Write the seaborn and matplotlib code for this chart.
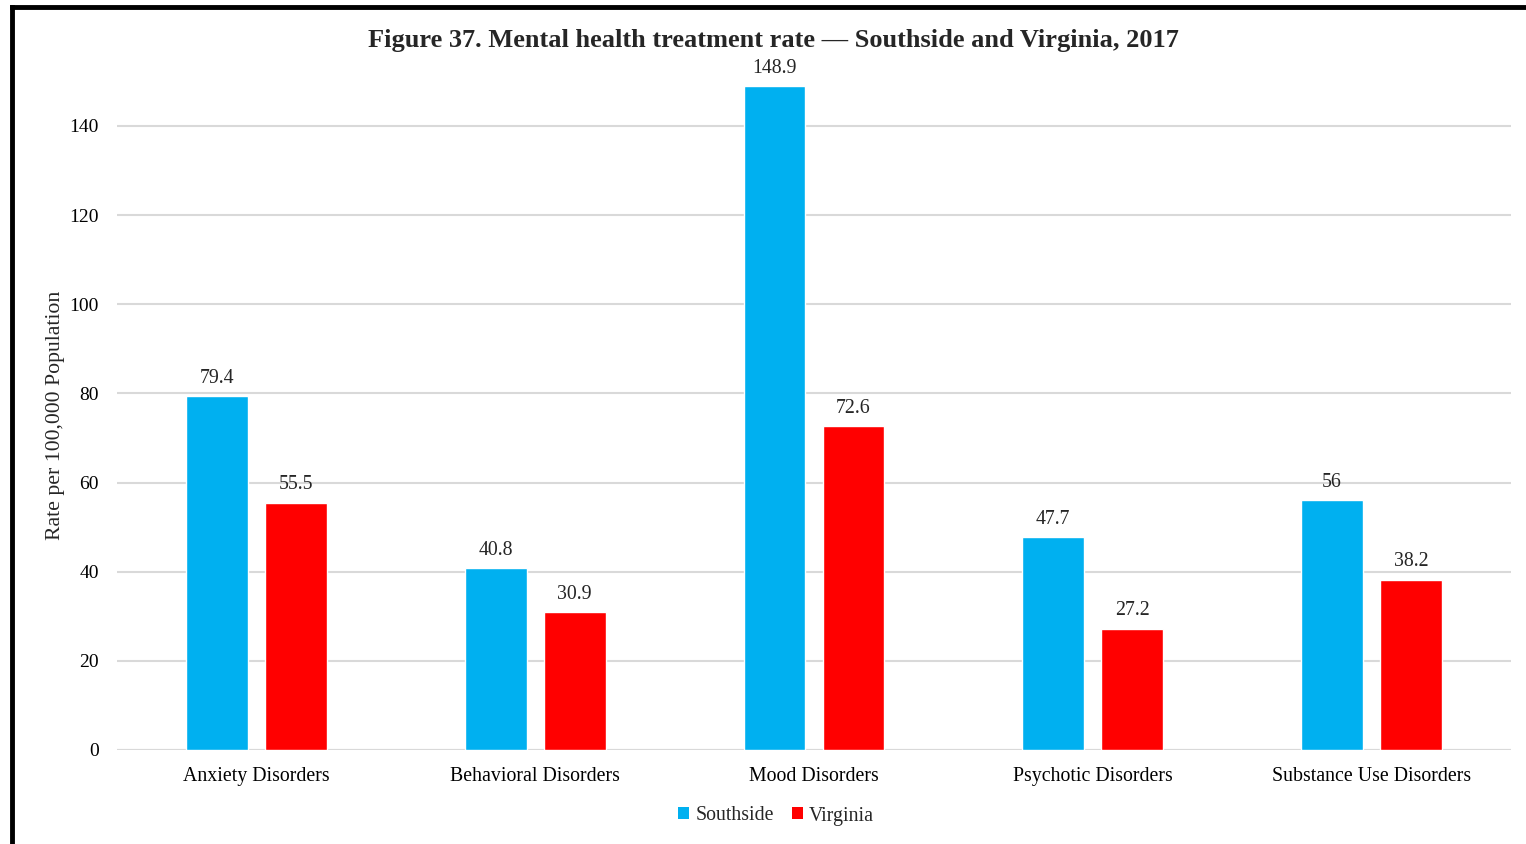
import matplotlib
matplotlib.use("Agg")
import matplotlib.pyplot as plt
import seaborn as sns
import pandas as pd
from matplotlib.lines import Line2D
from matplotlib.patches import Patch

categories = ["Anxiety Disorders", "Behavioral Disorders", "Mood Disorders",
              "Psychotic Disorders", "Substance Use Disorders"]
southside = [79.4, 40.8, 148.9, 47.7, 56]
virginia = [55.5, 30.9, 72.6, 27.2, 38.2]
series = ["Southside", "Virginia"]
colors = ["#00B0F0", "#FF0000"]
value_labels_s = ["79.4", "40.8", "148.9", "47.7", "56"]
value_labels_v = ["55.5", "30.9", "72.6", "27.2", "38.2"]
yticks = [0, 20, 40, 60, 80, 100, 120, 140]

sns.set_theme(style="white")
plt.rcParams['font.family'] = ['Liberation Serif', 'DejaVu Serif']

df = pd.DataFrame({
    "Category": categories * 2,
    "Series": [series[0]] * 5 + [series[1]] * 5,
    "Value": southside + virginia,
})

W, H = 1526, 844
fig = plt.figure(figsize=(W / 100, H / 100), dpi=100)
left, right, bottom, top = 117, 1511, 750, 81.4
ax = fig.add_axes([left / W, 1 - bottom / H, (right - left) / W, (bottom - top) / H])

sns.barplot(data=df, x="Category", y="Value", hue="Series", order=categories,
            hue_order=series, palette=colors, width=0.567, gap=0.217,
            saturation=1, legend=False, ax=ax, zorder=3)

fs = 14.3
ax.set_ylim(0, 150)
ax.set_xlim(-0.5, 4.5)
ax.set_yticks(yticks)
ax.set_yticklabels([str(t) for t in yticks])
ax.yaxis.grid(True, color="#d9d9d9", linewidth=1.5, zorder=0)
ax.set_axisbelow(True)
for s in ax.spines.values():
    s.set_visible(False)
ax.tick_params(axis="y", length=0, labelsize=14, colors="black", pad=13)
ax.tick_params(axis="x", length=0, labelsize=fs, colors="black", pad=12)
ax.set_xlabel("")
ax.set_ylabel("Rate per 100,000 Population", fontsize=15.7, labelpad=3)
ax.axhline(0, color="#d9d9d9", linewidth=1.5, zorder=1)

for container, labels in zip(ax.containers, [value_labels_s, value_labels_v]):
    ax.bar_label(container, labels=labels, padding=6, fontsize=fs)

fig.text(773 / W, 1 - 40 / H, "Figure 37. Mental health treatment rate \u2014 Southside and Virginia, 2017",
         ha="center", va="center", fontsize=19, fontweight="bold")

handles = [Patch(facecolor=c, edgecolor="none") for c in colors]
fig.legend(handles, series, loc="center", bbox_to_anchor=(776 / W, 1 - 816 / H), ncol=2,
           frameon=False, fontsize=fs, handlelength=0.55, handleheight=0.55,
           handletextpad=0.3, columnspacing=0.9)

# border of the cropped frame
fig.add_artist(Line2D([12 / W, 12 / W], [0, 1 - 7 / H], color="black", linewidth=3.5,
                      transform=fig.transFigure, solid_capstyle="projecting"))
fig.add_artist(Line2D([12 / W, 1], [1 - 7 / H, 1 - 7 / H], color="black", linewidth=3.5,
                      transform=fig.transFigure, solid_capstyle="projecting"))

fig.savefig("out.png", dpi=100)
